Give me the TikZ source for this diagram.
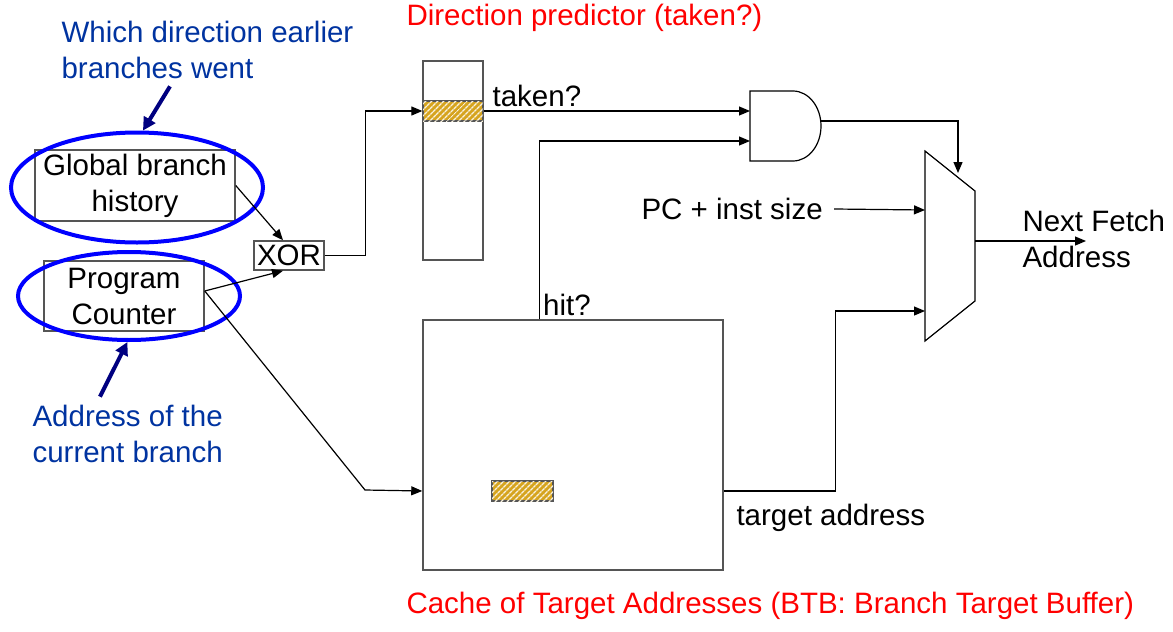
\documentclass[tikz,border=0pt]{standalone}
\usepackage{fontspec}
\setmainfont{Liberation Sans}
\usetikzlibrary{arrows.meta}
\usetikzlibrary{patterns.meta}
\usetikzlibrary{shapes.geometric}
\usetikzlibrary{calc}
\definecolor{noteblue}{RGB}{0,51,160}
\definecolor{navyarrow}{RGB}{0,0,128}
\definecolor{ringblue}{RGB}{0,0,255}
\definecolor{hatchgold}{RGB}{214,164,30}
\definecolor{boxgray}{RGB}{85,85,85}
\newcommand{\labelfont}{\fontsize{29.5}{36}\selectfont}

\begin{document}
\begin{tikzpicture}[x=1pt,y=-1pt,
    every node/.style={black,font=\labelfont},
    >={Triangle[length=11pt,width=9pt]},
    unit/.style={draw=boxgray,line width=1.5pt,inner sep=0pt,align=center},
    ring/.style={draw=ringblue,line width=4pt,ellipse,inner sep=0pt},
    wire/.style={line width=1.2pt},
    hatched/.style={draw=boxgray,line width=1.3pt,inner sep=0pt,fill=hatchgold,
        postaction={pattern={Lines[angle=45,distance=4pt,line width=1.4pt]},pattern color=white!85!hatchgold}},
    note/.style={noteblue,align=left,anchor=west},
    title/.style={red,anchor=west},
    pointer/.style={navyarrow,line width=4pt,-{Triangle[length=13pt,width=13pt]}}]
    \useasboundingbox (0,0) rectangle (1173,632);

    % left side: history, pc and xor
    \node[unit,minimum width=200,minimum height=71] (gbh) at (135,185.5) {Global branch\\history};
    \node[unit,minimum width=160,minimum height=70] (pc) at (124,296) {Program\\Counter};
    \node[unit,minimum width=70,minimum height=29] (xor) at (289,255.5) {XOR};
    \node[ring,minimum width=252,minimum height=110] (ringgbh) at (137,187.5) {};
    \node[ring,minimum width=222,minimum height=88] (ringpc) at (129,296) {};

    \node[note] (notegbh) at (58,50) {Which direction earlier\\branches went};
    \node[note] (notepc) at (29,434) {Address of the\\current branch};
    \draw[pointer] ($(notegbh.south west)+(112,4)$) -- (ringgbh.84);
    \draw[pointer] ($(notepc.north west)+(71,-5)$) -- (ringpc.-92);

    % direction predictor
    \node[unit,minimum width=60,minimum height=199] (pred) at (453,160.5) {};
    \node[hatched,minimum width=60,minimum height=20] (predrow) at (453,111) {};
    \node[title] (predname) at (403,18) {Direction predictor (taken?)};

    % target buffer
    \node[unit,minimum width=300,minimum height=250] (btb) at (573,445) {};
    \node[hatched,minimum width=61,minimum height=20] (btbrow) at (522.5,491) {};
    \node[title] (btbname) at (403,606) {Cache of Target Addresses (BTB: Branch Target Buffer)};

    % and gate
    \draw[line width=1.2pt] (750,91) -- (793,91)
        arc[start angle=-90,end angle=90,x radius=28,y radius=35]
        -- (750,161) -- cycle;
    \coordinate (andtaken) at (750,111);
    \coordinate (andhit) at (750,141);
    \coordinate (andout) at (821,121);

    % mux
    \draw[line width=1.2pt] (925,151) -- (975,191) -- (975,301) -- (925,341) -- cycle;
    \coordinate (muxsel) at (958,173);
    \coordinate (muxpc) at (925,210);
    \coordinate (muxtarget) at (925,311);
    \coordinate (muxout) at (975,241);
    \coordinate (nextfetch) at (1086,241);

    % wires
    \draw[wire,->] (gbh.east) -- ([xshift=-6pt]xor.north);
    \draw[wire,->] ([yshift=5pt]pc.east) -- ([xshift=-6pt]xor.south);
    \draw[wire,->] ([yshift=5pt]pc.east) -- (365,490) -- (btb.west |- btbrow);
    \draw[wire,->] (xor.east) -- ++(41,0) |- (predrow.west);
    \draw[wire,->] (predrow.east) -- (andtaken) node[pos=0.2,above] {taken?};
    \draw[wire,->] ($(btb.north west)+(117,0)$) node[above right] {hit?} |- (andhit);
    \draw[wire,->] (andout) -| (muxsel);
    \draw[wire,->] (btb.east |- btbrow) -- ++(112,0) |- (muxtarget);
    \node[anchor=west] (pcsize) at (638,209) {PC + inst size};
    \draw[wire,->] ([xshift=8pt]pcsize.east) -- (muxpc);
    \draw[wire,->] (muxout) -- (nextfetch);
    \node[anchor=north west] (tgtname) at (733,501) {target address};
    \node[anchor=west,align=left] (nextname) at (1019,239) {Next Fetch\\Address};
\end{tikzpicture}
\end{document}
